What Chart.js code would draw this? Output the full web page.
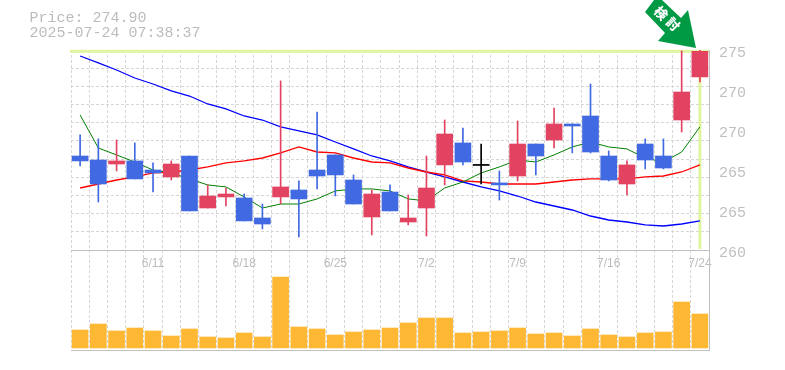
<!DOCTYPE html>
<html><head><meta charset="utf-8">
<style>
html,body{margin:0;padding:0;background:#fff;width:785px;height:370px;overflow:hidden}
#wrap{position:relative;width:785px;height:370px}
canvas{position:absolute;left:0;top:0}
.t{position:absolute;left:29.5px;font:15px/15px "Liberation Mono",monospace;color:#bcbcbc;white-space:pre}
svg{position:absolute;left:0;top:0}
</style>
<script src="https://cdn.jsdelivr.net/npm/chart.js@4"></script>
</head><body>
<div id="wrap">
<canvas id="c" width="785" height="370"></canvas>
<div class="t" style="top:11px">Price: 274.90</div>
<div class="t" style="top:26px">2025-07-24 07:38:37</div>
<svg width="785" height="370">
<polygon points="645,12 665,33 658,41 696,48 688,10 681,18 662,0 654,0" fill="#009944"/>
<text transform="translate(660,14) rotate(45)" font-family="Noto Sans CJK JP" font-weight="900" font-size="13" fill="#fff" text-anchor="middle" dominant-baseline="middle">検</text>
<text transform="translate(672,25) rotate(45)" font-family="Noto Sans CJK JP" font-weight="900" font-size="13" fill="#fff" text-anchor="middle" dominant-baseline="middle">討</text>
</svg>
</div>
<script>
const dates=['6/5','6/6','6/9','6/10','6/11','6/12','6/13','6/16','6/17','6/18','6/19','6/20','6/23','6/24','6/25','6/26','6/27','6/30','7/1','7/2','7/3','7/4','7/7','7/8','7/9','7/10','7/11','7/14','7/15','7/16','7/17','7/18','7/22','7/23','7/24'];
const shownDates=['6/11','6/18','6/25','7/2','7/9','7/16','7/24'];
const open=[267.05,266.75,266.45,266.68,266.00,265.48,267.05,263.15,263.98,263.90,262.40,263.98,264.50,266.00,267.13,265.25,262.48,264.35,262.10,263.15,266.38,268.03,266.38,265.03,265.55,267.95,268.25,269.45,270.05,267.05,264.95,267.95,267.05,269.75,272.98];
const high=[268.63,268.33,268.25,268.03,266.53,266.68,267.05,264.88,264.65,264.20,263.45,272.68,265.18,270.35,267.13,265.63,264.50,264.88,264.13,267.05,269.75,269.15,267.95,265.93,269.68,267.95,270.65,269.45,272.45,267.43,266.68,268.33,268.33,274.93,275.00];
const low=[266.30,263.60,265.93,265.33,264.35,265.25,262.93,263.15,263.30,262.18,261.58,263.45,260.98,264.58,264.05,263.45,261.13,262.93,261.88,261.05,264.88,266.38,264.95,263.75,265.18,265.63,267.65,267.28,267.28,265.18,264.13,266.08,266.08,268.85,272.60];
const close=[266.68,264.95,266.68,265.33,265.78,266.45,262.93,264.05,264.20,262.18,261.95,264.73,263.83,265.55,265.63,263.45,264.20,262.93,262.40,264.65,268.70,266.60,266.38,264.88,267.95,267.05,269.45,269.30,267.35,265.25,266.38,266.75,266.15,271.85,274.90];
const maShort=[270.13,267.65,267.13,266.60,266.00,265.78,265.33,264.88,264.73,263.98,263.15,263.45,263.45,263.83,264.43,264.58,264.58,264.43,263.83,263.68,264.65,265.10,265.78,266.23,266.75,266.60,267.13,267.73,268.10,267.73,267.58,266.90,266.60,267.35,269.23];
const maMid=[264.65,264.95,265.25,265.48,265.78,265.85,266.00,266.23,266.53,266.68,266.90,267.28,267.73,267.35,267.28,266.90,266.60,266.53,266.15,265.85,265.63,265.18,265.10,264.95,264.95,264.95,265.10,265.25,265.33,265.33,265.33,265.48,265.55,265.85,266.38];
const maLong=[274.55,274.03,273.50,272.90,272.45,271.93,271.55,270.95,270.58,270.05,269.75,269.23,268.93,268.63,268.10,267.58,267.05,266.68,266.23,265.85,265.48,265.10,264.73,264.43,264.05,263.60,263.30,263.00,262.55,262.25,262.10,261.88,261.80,261.95,262.18];
const volume=[18,24,17,20,17,12,19,11,10,15,11,71,21,19,13,16,18,20,25,30,30,15,16,17,20,14,15,12,19,13,11,15,16,46,34];
const priceTickValues=[275,272,269,266,263,260];
const priceTickLabels=['275','270','270','265','265','260'];
const lastPrice=274.9;
const priceMin=260,priceMax=275;

const RED='#e24361',BLUE='#4169e1',BLACK='#000000',GRID='#d6d6d6',EDGE='#c0c0c0',HILITE='#e0f5a0',VOL='#ffb833';
const colorOf=i=>open[i]===close[i]?BLACK:(close[i]>open[i]?RED:BLUE);
const candleColors=dates.map((_,i)=>colorOf(i));
const bodies=dates.map((_,i)=>open[i]===close[i]?[open[i]-0.04,open[i]+0.04]:[open[i],close[i]]);
const wicks=dates.map((_,i)=>[low[i],high[i]]);

const hilite={id:'hilite',beforeDatasetsDraw(ch){
  const {ctx,chartArea:a,scales}=ch;
  const y=scales.y.getPixelForValue(lastPrice), x=scales.x.getPixelForValue(dates.length-1), b=scales.y.getPixelForValue(priceMin);
  ctx.save();ctx.fillStyle=HILITE;
  ctx.fillRect(a.left-1,y-1.5,a.right-a.left+1,3);
  ctx.fillRect(x-1.5,y,3,b-y-1);
  ctx.restore();
}};

new Chart(document.getElementById('c'),{
 data:{labels:dates,datasets:[
  {type:'bar',data:volume,yAxisID:'yVol',backgroundColor:VOL,barThickness:16,grouped:false,order:6},
  {type:'line',data:maLong,yAxisID:'y',borderColor:'#0000ff',borderWidth:1.3,pointRadius:0,tension:0,order:5},
  {type:'line',data:maMid,yAxisID:'y',borderColor:'#ff0000',borderWidth:1.3,pointRadius:0,tension:0,order:4},
  {type:'line',data:maShort,yAxisID:'y',borderColor:'#008000',borderWidth:1,pointRadius:0,tension:0,order:3},
  {type:'bar',data:wicks,yAxisID:'y',backgroundColor:candleColors,barThickness:1,grouped:false,order:2},
  {type:'bar',data:bodies,yAxisID:'y',backgroundColor:candleColors,barThickness:16,grouped:false,order:1}
 ]},
 options:{
  responsive:false,animation:false,
  layout:{padding:{left:71,top:50,right:0,bottom:20}},
  plugins:{legend:{display:false},tooltip:{enabled:false},title:{display:false}},
  scales:{
   x:{type:'category',position:{y:priceMin},offset:true,
      grid:{color:GRID,drawTicks:false,offset:true,lineWidth:1},
      border:{color:EDGE,width:1,dash:[3,2],display:true},
      ticks:{autoSkip:false,maxRotation:0,padding:6,color:'#bcbcbc',font:{family:'"Liberation Sans",sans-serif',size:12},
        callback(v){const l=this.getLabelForValue(v);return shownDates.includes(l)?l:'';}}},
   xEdge:{type:'category',position:'bottom',offset:true,grid:{display:false,drawTicks:false},
      border:{color:EDGE,width:1},ticks:{display:false},afterFit(s){s.height=0;}},
   y:{type:'linear',position:'left',display:true,min:252.5,max:275,
      grid:{color:GRID,drawTicks:false,lineWidth:1},border:{display:false,dash:[3,2]},
      ticks:{display:false},afterFit(s){s.width=0;},
      afterBuildTicks(s){const n=11,o=[];for(let k=0;k<n;k++)o.push({value:priceMax-(priceMax-priceMin)*k/n});s.ticks=o;}},
   yLabel:{type:'linear',position:'right',min:252.76,max:275.26,
      grid:{display:false,drawTicks:false},border:{color:EDGE,width:1},
      ticks:{padding:10,color:EDGE,font:{family:'"Liberation Mono",monospace',size:15},
        callback(v){const i=priceTickValues.indexOf(v);return i<0?'':priceTickLabels[i];}},
      afterBuildTicks(s){s.ticks=priceTickValues.map(v=>({value:v}));},
      afterFit(s){s.width=76;}},
   yVol:{type:'linear',display:false,min:-2,max:298}
  }
 },
 plugins:[hilite]
});
</script>
</body></html>
